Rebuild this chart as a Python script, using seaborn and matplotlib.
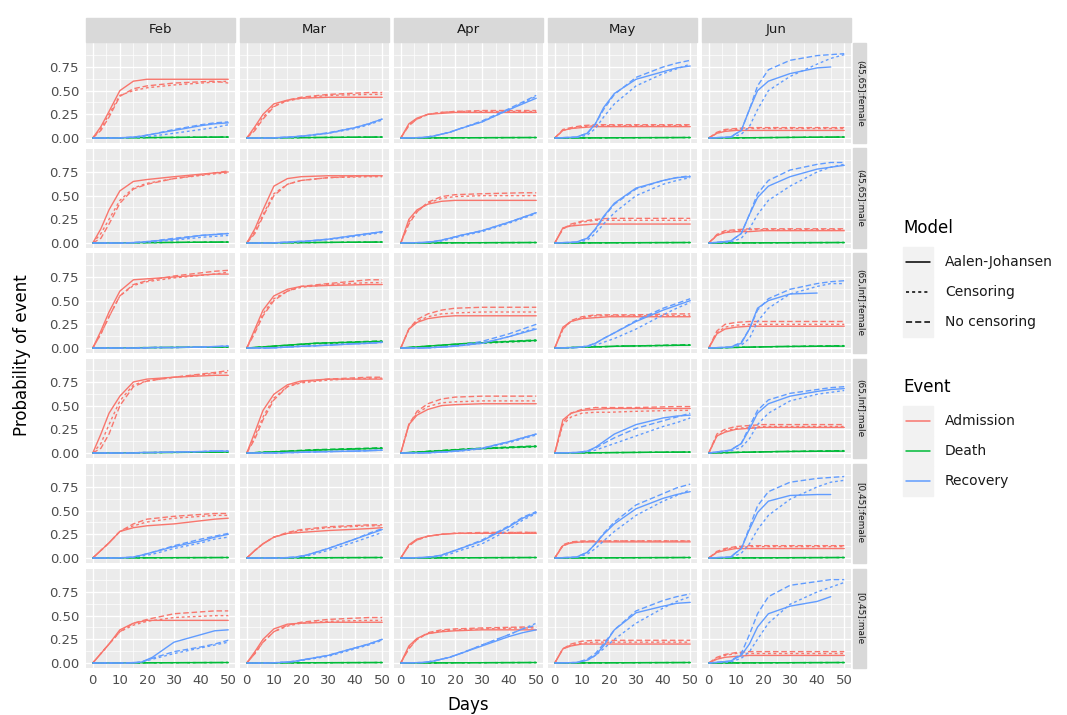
import numpy as np
import pandas as pd
import matplotlib
matplotlib.use("Agg")
import matplotlib.pyplot as plt
import seaborn as sns
from matplotlib.lines import Line2D
from matplotlib.patches import Rectangle
from matplotlib.ticker import MultipleLocator

nan = np.nan

# ──────────────────────────────────────────────
# Data
# ──────────────────────────────────────────────

MONTHS = ["Feb", "Mar", "Apr", "May", "Jun"]
GROUPS = ["(45,65]:female", "(45,65]:male", "(65,Inf]:female",
          "(65,Inf]:male", "[0,45]:female", "[0,45]:male"]
EVENTS = ["Admission", "Death", "Recovery"]
MODELS = ["Aalen-Johansen", "Censoring", "No censoring"]

ADM_DAYS = [0, 3, 6, 10, 15, 20, 30, 45, 50]
REC_DAYS = [0, 8, 12, 15, 18, 22, 30, 40, 45, 50]
DEATH_DAYS = [0, 25, 50]

# [group][month] -> values at ADM_DAYS
ADM_AJ = [
    [[0, 0.12, 0.28, 0.50, 0.60, 0.62, 0.62, 0.62, 0.62],
     [0, 0.12, 0.25, 0.36, 0.40, 0.42, 0.43, 0.43, 0.43],
     [0, 0.15, 0.21, 0.25, 0.26, 0.27, 0.27, 0.27, 0.27],
     [0, 0.08, 0.10, 0.11, 0.12, 0.12, 0.12, 0.12, 0.12],
     [0, 0.05, 0.07, 0.08, 0.08, 0.08, 0.08, 0.08, 0.08]],
    [[0, 0.15, 0.35, 0.55, 0.65, 0.67, 0.70, 0.74, 0.75],
     [0, 0.15, 0.35, 0.60, 0.68, 0.70, 0.71, 0.71, 0.71],
     [0, 0.25, 0.35, 0.41, 0.44, 0.45, 0.45, 0.45, 0.45],
     [0, 0.16, 0.18, 0.19, 0.20, 0.20, 0.20, 0.20, 0.20],
     [0, 0.08, 0.11, 0.12, 0.12, 0.13, 0.13, 0.13, 0.13]],
    [[0, 0.18, 0.38, 0.60, 0.72, 0.73, 0.75, 0.78, 0.78],
     [0, 0.20, 0.40, 0.55, 0.62, 0.65, 0.66, 0.67, 0.67],
     [0, 0.20, 0.27, 0.31, 0.33, 0.34, 0.34, 0.34, 0.34],
     [0, 0.22, 0.28, 0.31, 0.32, 0.33, 0.33, 0.33, 0.33],
     [0, 0.15, 0.20, 0.22, 0.23, 0.23, 0.23, 0.23, 0.23]],
    [[0, 0.20, 0.42, 0.60, 0.75, 0.78, 0.80, 0.82, 0.82],
     [0, 0.22, 0.45, 0.62, 0.72, 0.76, 0.78, 0.78, 0.78],
     [0, 0.30, 0.40, 0.46, 0.50, 0.51, 0.52, 0.52, 0.52],
     [0, 0.35, 0.42, 0.45, 0.46, 0.47, 0.47, 0.47, 0.47],
     [0, 0.18, 0.22, 0.25, 0.26, 0.27, 0.27, 0.27, 0.27]],
    [[0, 0.08, 0.16, 0.28, 0.32, 0.34, 0.36, 0.41, 0.42],
     [0, 0.08, 0.15, 0.22, 0.26, 0.27, 0.29, 0.31, 0.32],
     [0, 0.14, 0.20, 0.23, 0.25, 0.26, 0.26, 0.26, 0.26],
     [0, 0.13, 0.16, 0.17, 0.17, 0.17, 0.17, 0.17, 0.17],
     [0, 0.06, 0.08, 0.10, 0.10, 0.10, 0.10, 0.10, 0.10]],
    [[0, 0.10, 0.20, 0.35, 0.42, 0.45, 0.45, 0.45, 0.45],
     [0, 0.12, 0.25, 0.36, 0.41, 0.42, 0.43, 0.43, 0.43],
     [0, 0.18, 0.26, 0.31, 0.33, 0.34, 0.35, 0.35, 0.35],
     [0, 0.15, 0.18, 0.20, 0.20, 0.20, 0.20, 0.20, 0.20],
     [0, 0.04, 0.06, 0.07, 0.08, 0.08, 0.08, 0.08, 0.08]],
]

ADM_CENS = [
    [[0, 0.10, 0.25, 0.45, 0.50, 0.53, 0.56, 0.59, 0.60],
     [0, 0.10, 0.22, 0.34, 0.39, 0.42, 0.45, 0.46, 0.46],
     [0, 0.14, 0.20, 0.25, 0.27, 0.28, 0.28, 0.28, 0.28],
     [0, 0.08, 0.10, 0.12, 0.13, 0.13, 0.13, 0.13, 0.13],
     [0, 0.05, 0.08, 0.09, 0.10, 0.10, 0.10, 0.10, 0.10]],
    [[0, 0.10, 0.25, 0.45, 0.58, 0.63, 0.68, 0.73, 0.74],
     [0, 0.12, 0.30, 0.52, 0.62, 0.66, 0.69, 0.70, 0.70],
     [0, 0.22, 0.33, 0.42, 0.47, 0.49, 0.50, 0.50, 0.50],
     [0, 0.15, 0.19, 0.22, 0.24, 0.24, 0.24, 0.24, 0.24],
     [0, 0.08, 0.12, 0.13, 0.14, 0.14, 0.14, 0.14, 0.14]],
    [[0, 0.15, 0.33, 0.55, 0.66, 0.70, 0.74, 0.78, 0.80],
     [0, 0.18, 0.36, 0.52, 0.60, 0.64, 0.67, 0.69, 0.69],
     [0, 0.20, 0.28, 0.33, 0.36, 0.37, 0.38, 0.38, 0.38],
     [0, 0.20, 0.28, 0.32, 0.34, 0.34, 0.34, 0.34, 0.34],
     [0, 0.16, 0.22, 0.24, 0.25, 0.25, 0.25, 0.25, 0.25]],
    [[0, 0.10, 0.30, 0.55, 0.72, 0.76, 0.80, 0.84, 0.85],
     [0, 0.18, 0.38, 0.58, 0.70, 0.74, 0.77, 0.79, 0.79],
     [0, 0.30, 0.42, 0.49, 0.53, 0.54, 0.55, 0.55, 0.55],
     [0, 0.30, 0.38, 0.42, 0.43, 0.43, 0.44, 0.45, 0.45],
     [0, 0.18, 0.23, 0.26, 0.27, 0.28, 0.28, 0.28, 0.28]],
    [[0, 0.08, 0.16, 0.28, 0.34, 0.38, 0.42, 0.45, 0.45],
     [0, 0.08, 0.15, 0.22, 0.26, 0.29, 0.32, 0.34, 0.34],
     [0, 0.13, 0.19, 0.23, 0.25, 0.26, 0.26, 0.27, 0.27],
     [0, 0.13, 0.16, 0.17, 0.18, 0.18, 0.18, 0.18, 0.18],
     [0, 0.06, 0.09, 0.11, 0.12, 0.12, 0.12, 0.12, 0.12]],
    [[0, 0.10, 0.20, 0.33, 0.40, 0.44, 0.48, 0.50, 0.50],
     [0, 0.10, 0.22, 0.33, 0.39, 0.42, 0.44, 0.45, 0.45],
     [0, 0.16, 0.25, 0.31, 0.34, 0.35, 0.36, 0.37, 0.37],
     [0, 0.15, 0.19, 0.21, 0.22, 0.22, 0.22, 0.22, 0.22],
     [0, 0.05, 0.08, 0.10, 0.10, 0.10, 0.10, 0.10, 0.10]],
]

ADM_NOCENS = [
    [[0, 0.08, 0.22, 0.44, 0.52, 0.55, 0.58, 0.60, 0.58],
     [0, 0.08, 0.20, 0.33, 0.40, 0.43, 0.46, 0.48, 0.48],
     [0, 0.13, 0.20, 0.25, 0.27, 0.28, 0.29, 0.29, 0.29],
     [0, 0.09, 0.11, 0.13, 0.14, 0.14, 0.14, 0.14, 0.14],
     [0, 0.06, 0.09, 0.10, 0.11, 0.11, 0.11, 0.11, 0.11]],
    [[0, 0.05, 0.20, 0.42, 0.57, 0.62, 0.68, 0.74, 0.76],
     [0, 0.10, 0.28, 0.50, 0.62, 0.66, 0.69, 0.71, 0.71],
     [0, 0.20, 0.33, 0.43, 0.49, 0.51, 0.52, 0.53, 0.53],
     [0, 0.15, 0.20, 0.23, 0.25, 0.26, 0.26, 0.26, 0.26],
     [0, 0.09, 0.13, 0.14, 0.15, 0.15, 0.15, 0.15, 0.15]],
    [[0, 0.15, 0.33, 0.55, 0.67, 0.71, 0.76, 0.81, 0.82],
     [0, 0.16, 0.34, 0.50, 0.60, 0.65, 0.68, 0.72, 0.72],
     [0, 0.20, 0.30, 0.36, 0.40, 0.42, 0.43, 0.43, 0.43],
     [0, 0.20, 0.29, 0.33, 0.35, 0.35, 0.35, 0.36, 0.36],
     [0, 0.18, 0.25, 0.27, 0.28, 0.28, 0.28, 0.28, 0.28]],
    [[0, 0.05, 0.20, 0.50, 0.70, 0.76, 0.80, 0.85, 0.87],
     [0, 0.15, 0.35, 0.56, 0.70, 0.75, 0.78, 0.80, 0.80],
     [0, 0.30, 0.44, 0.52, 0.57, 0.59, 0.60, 0.60, 0.60],
     [0, 0.32, 0.42, 0.46, 0.48, 0.48, 0.48, 0.49, 0.49],
     [0, 0.20, 0.25, 0.28, 0.29, 0.30, 0.30, 0.30, 0.30]],
    [[0, 0.08, 0.16, 0.28, 0.36, 0.41, 0.44, 0.47, 0.47],
     [0, 0.08, 0.15, 0.22, 0.27, 0.30, 0.33, 0.35, 0.35],
     [0, 0.13, 0.19, 0.23, 0.25, 0.26, 0.27, 0.27, 0.27],
     [0, 0.14, 0.17, 0.18, 0.18, 0.18, 0.18, 0.18, 0.18],
     [0, 0.07, 0.10, 0.12, 0.13, 0.13, 0.13, 0.13, 0.13]],
    [[0, 0.10, 0.20, 0.33, 0.42, 0.46, 0.52, 0.55, 0.55],
     [0, 0.10, 0.22, 0.33, 0.40, 0.43, 0.46, 0.48, 0.48],
     [0, 0.15, 0.25, 0.32, 0.35, 0.36, 0.37, 0.38, 0.38],
     [0, 0.15, 0.20, 0.23, 0.24, 0.24, 0.24, 0.24, 0.24],
     [0, 0.06, 0.09, 0.11, 0.12, 0.12, 0.12, 0.12, 0.12]],
]

# [group][month] -> values at REC_DAYS
REC_AJ = [
    [[0, 0, 0.005, 0.01, 0.02, 0.04, 0.08, 0.13, 0.15, 0.16],
     [0, 0, 0.005, 0.01, 0.015, 0.025, 0.05, 0.11, 0.15, 0.20],
     [0, 0.005, 0.02, 0.04, 0.06, 0.10, 0.17, 0.30, 0.36, 0.42],
     [0, 0.01, 0.05, 0.15, 0.32, 0.47, 0.62, 0.70, 0.74, 0.76],
     [0, 0.01, 0.08, 0.30, 0.50, 0.60, 0.68, 0.74, 0.75, nan]],
    [[0, 0, 0, 0.005, 0.01, 0.02, 0.04, 0.08, 0.09, 0.10],
     [0, 0, 0.005, 0.01, 0.015, 0.02, 0.04, 0.08, 0.10, 0.12],
     [0, 0.005, 0.015, 0.03, 0.05, 0.08, 0.13, 0.22, 0.27, 0.32],
     [0, 0.01, 0.05, 0.15, 0.28, 0.42, 0.58, 0.66, 0.69, 0.70],
     [0, 0.02, 0.10, 0.30, 0.48, 0.60, 0.70, 0.78, 0.80, 0.82]],
    [[0, 0, 0, 0, 0, 0.005, 0.005, 0.01, 0.015, 0.02],
     [0, 0, 0.005, 0.01, 0.015, 0.02, 0.03, 0.045, 0.05, 0.06],
     [0, 0, 0.005, 0.01, 0.015, 0.025, 0.05, 0.12, 0.16, 0.20],
     [0, 0.005, 0.02, 0.05, 0.10, 0.16, 0.28, 0.40, 0.45, 0.50],
     [0, 0.01, 0.05, 0.20, 0.42, 0.50, 0.57, 0.58, nan, nan]],
    [[0, 0, 0, 0, 0.005, 0.005, 0.01, 0.015, 0.02, 0.02],
     [0, 0, 0, 0.005, 0.005, 0.01, 0.015, 0.02, 0.025, 0.03],
     [0, 0, 0.005, 0.01, 0.015, 0.025, 0.05, 0.12, 0.16, 0.20],
     [0, 0.005, 0.02, 0.06, 0.12, 0.20, 0.30, 0.37, 0.39, 0.40],
     [0, 0.03, 0.10, 0.25, 0.42, 0.52, 0.60, 0.65, 0.67, 0.68]],
    [[0, 0, 0.005, 0.01, 0.03, 0.06, 0.12, 0.18, 0.22, 0.25],
     [0, 0, 0, 0.005, 0.01, 0.03, 0.10, 0.20, 0.25, 0.30],
     [0, 0.005, 0.015, 0.03, 0.06, 0.10, 0.18, 0.33, 0.42, 0.48],
     [0, 0.01, 0.06, 0.15, 0.25, 0.36, 0.52, 0.63, 0.67, 0.70],
     [0, 0.01, 0.10, 0.30, 0.48, 0.60, 0.66, 0.67, 0.67, nan]],
    [[0, 0, 0, 0.005, 0.01, 0.06, 0.22, 0.30, 0.34, 0.35],
     [0, 0, 0.005, 0.01, 0.02, 0.04, 0.08, 0.16, 0.20, 0.25],
     [0, 0.005, 0.02, 0.04, 0.06, 0.10, 0.18, 0.28, 0.32, 0.35],
     [0, 0.005, 0.03, 0.08, 0.18, 0.35, 0.53, 0.60, 0.63, 0.64],
     [0, 0.02, 0.08, 0.20, 0.38, 0.52, 0.60, 0.65, 0.70, nan]],
]

REC_CENS = [
    [[0, 0, 0, 0.005, 0.01, 0.02, 0.05, 0.09, 0.11, 0.14],
     [0, 0, 0, 0.005, 0.01, 0.02, 0.05, 0.10, 0.14, 0.19],
     [0, 0.005, 0.02, 0.04, 0.06, 0.10, 0.17, 0.30, 0.37, 0.44],
     [0, 0.005, 0.03, 0.10, 0.22, 0.36, 0.55, 0.68, 0.73, 0.78],
     [0, 0.005, 0.04, 0.12, 0.30, 0.50, 0.65, 0.78, 0.84, 0.88]],
    [[0, 0, 0, 0, 0.005, 0.01, 0.03, 0.06, 0.07, 0.08],
     [0, 0, 0, 0.005, 0.01, 0.015, 0.035, 0.07, 0.09, 0.11],
     [0, 0.005, 0.01, 0.02, 0.04, 0.07, 0.12, 0.21, 0.26, 0.31],
     [0, 0.005, 0.03, 0.10, 0.20, 0.32, 0.50, 0.62, 0.66, 0.69],
     [0, 0.01, 0.05, 0.15, 0.30, 0.45, 0.60, 0.75, 0.80, 0.83]],
    [[0, 0, 0, 0, 0, 0.005, 0.005, 0.01, 0.015, 0.02],
     [0, 0, 0.005, 0.01, 0.015, 0.02, 0.03, 0.045, 0.05, 0.06],
     [0, 0, 0.005, 0.01, 0.015, 0.025, 0.05, 0.12, 0.17, 0.21],
     [0, 0.005, 0.015, 0.03, 0.06, 0.10, 0.20, 0.35, 0.42, 0.48],
     [0, 0.005, 0.03, 0.10, 0.28, 0.42, 0.57, 0.65, 0.68, 0.68]],
    [[0, 0, 0, 0, 0.005, 0.005, 0.01, 0.015, 0.02, 0.02],
     [0, 0, 0, 0.005, 0.005, 0.01, 0.015, 0.02, 0.025, 0.03],
     [0, 0, 0.005, 0.01, 0.015, 0.02, 0.045, 0.11, 0.15, 0.19],
     [0, 0.005, 0.015, 0.03, 0.06, 0.10, 0.18, 0.28, 0.32, 0.37],
     [0, 0.02, 0.06, 0.15, 0.30, 0.42, 0.55, 0.62, 0.64, 0.66]],
    [[0, 0, 0, 0.005, 0.02, 0.04, 0.10, 0.16, 0.20, 0.22],
     [0, 0, 0, 0, 0.005, 0.02, 0.08, 0.17, 0.22, 0.27],
     [0, 0.005, 0.01, 0.02, 0.04, 0.08, 0.15, 0.30, 0.40, 0.47],
     [0, 0.005, 0.04, 0.10, 0.18, 0.28, 0.45, 0.60, 0.66, 0.72],
     [0, 0.005, 0.05, 0.15, 0.30, 0.45, 0.62, 0.75, 0.80, 0.82]],
    [[0, 0, 0, 0, 0.01, 0.04, 0.10, 0.16, 0.19, 0.22],
     [0, 0, 0.005, 0.01, 0.015, 0.035, 0.07, 0.15, 0.19, 0.24],
     [0, 0.005, 0.02, 0.04, 0.06, 0.10, 0.19, 0.30, 0.36, 0.42],
     [0, 0.005, 0.03, 0.08, 0.15, 0.25, 0.42, 0.58, 0.65, 0.70],
     [0, 0.01, 0.05, 0.12, 0.25, 0.42, 0.62, 0.75, 0.80, 0.85]],
]

REC_NOCENS = [
    [[0, 0, 0.005, 0.01, 0.02, 0.04, 0.09, 0.14, 0.16, 0.17],
     [0, 0, 0.005, 0.01, 0.015, 0.025, 0.055, 0.11, 0.15, 0.20],
     [0, 0.005, 0.02, 0.04, 0.06, 0.10, 0.18, 0.31, 0.38, 0.45],
     [0, 0.01, 0.05, 0.15, 0.30, 0.46, 0.64, 0.75, 0.79, 0.82],
     [0, 0.01, 0.08, 0.30, 0.55, 0.72, 0.82, 0.87, 0.88, 0.89]],
    [[0, 0, 0, 0.005, 0.01, 0.02, 0.05, 0.08, 0.09, 0.10],
     [0, 0, 0.005, 0.01, 0.015, 0.02, 0.04, 0.08, 0.10, 0.12],
     [0, 0.005, 0.015, 0.03, 0.05, 0.08, 0.13, 0.22, 0.27, 0.32],
     [0, 0.01, 0.05, 0.14, 0.27, 0.41, 0.57, 0.66, 0.69, 0.71],
     [0, 0.02, 0.10, 0.30, 0.52, 0.66, 0.77, 0.83, 0.85, 0.85]],
    [[0, 0, 0, 0, 0, 0.005, 0.005, 0.01, 0.015, 0.02],
     [0, 0, 0.005, 0.01, 0.015, 0.02, 0.03, 0.045, 0.05, 0.06],
     [0, 0, 0.005, 0.01, 0.02, 0.03, 0.07, 0.15, 0.20, 0.25],
     [0, 0.005, 0.02, 0.05, 0.10, 0.16, 0.29, 0.42, 0.47, 0.52],
     [0, 0.01, 0.06, 0.20, 0.40, 0.52, 0.62, 0.68, 0.70, 0.71]],
    [[0, 0, 0, 0, 0.005, 0.005, 0.01, 0.015, 0.02, 0.02],
     [0, 0, 0, 0.005, 0.005, 0.01, 0.015, 0.02, 0.025, 0.03],
     [0, 0, 0.005, 0.01, 0.015, 0.025, 0.05, 0.12, 0.16, 0.20],
     [0, 0.005, 0.02, 0.05, 0.10, 0.16, 0.26, 0.34, 0.38, 0.42],
     [0, 0.03, 0.10, 0.28, 0.45, 0.56, 0.63, 0.67, 0.69, 0.70]],
    [[0, 0, 0.005, 0.01, 0.03, 0.06, 0.13, 0.20, 0.23, 0.26],
     [0, 0, 0, 0.005, 0.01, 0.03, 0.10, 0.20, 0.26, 0.31],
     [0, 0.005, 0.015, 0.03, 0.06, 0.10, 0.19, 0.34, 0.43, 0.49],
     [0, 0.01, 0.06, 0.15, 0.26, 0.38, 0.56, 0.68, 0.74, 0.78],
     [0, 0.01, 0.10, 0.32, 0.55, 0.70, 0.80, 0.84, 0.85, 0.86]],
    [[0, 0, 0, 0, 0.01, 0.05, 0.12, 0.17, 0.20, 0.24],
     [0, 0, 0.005, 0.01, 0.02, 0.04, 0.08, 0.16, 0.20, 0.25],
     [0, 0.005, 0.02, 0.04, 0.06, 0.10, 0.19, 0.30, 0.36, 0.40],
     [0, 0.005, 0.04, 0.10, 0.20, 0.35, 0.55, 0.66, 0.70, 0.73],
     [0, 0.02, 0.10, 0.30, 0.52, 0.70, 0.82, 0.86, 0.88, 0.88]],
]

# [group][month] -> values at DEATH_DAYS (all three models nearly identical)
DEATH_AJ = [
    [[0, 0.005, 0.01], [0, 0.005, 0.01], [0, 0.003, 0.005], [0, 0.003, 0.005], [0, 0.005, 0.01]],
    [[0, 0.005, 0.01], [0, 0.005, 0.01], [0, 0.003, 0.005], [0, 0.003, 0.005], [0, 0.003, 0.005]],
    [[0, 0.005, 0.01], [0, 0.05, 0.07], [0, 0.05, 0.08], [0, 0.02, 0.03], [0, 0.015, 0.02]],
    [[0, 0.005, 0.01], [0, 0.03, 0.05], [0, 0.04, 0.07], [0, 0.005, 0.01], [0, 0.015, 0.02]],
    [[0, 0.003, 0.005], [0, 0.003, 0.005], [0, 0.003, 0.005], [0, 0.003, 0.005], [0, 0.003, 0.005]],
    [[0, 0.003, 0.005], [0, 0.003, 0.005], [0, 0.003, 0.005], [0, 0.003, 0.005], [0, 0.003, 0.005]],
]
DEATH_CENS = [
    [[0, 0.005, 0.01], [0, 0.005, 0.01], [0, 0.003, 0.005], [0, 0.003, 0.005], [0, 0.005, 0.01]],
    [[0, 0.005, 0.01], [0, 0.005, 0.01], [0, 0.003, 0.005], [0, 0.003, 0.005], [0, 0.003, 0.005]],
    [[0, 0.005, 0.01], [0, 0.045, 0.065], [0, 0.045, 0.075], [0, 0.02, 0.03], [0, 0.015, 0.02]],
    [[0, 0.005, 0.01], [0, 0.03, 0.05], [0, 0.04, 0.065], [0, 0.005, 0.01], [0, 0.015, 0.02]],
    [[0, 0.003, 0.005], [0, 0.003, 0.005], [0, 0.003, 0.005], [0, 0.003, 0.005], [0, 0.003, 0.005]],
    [[0, 0.003, 0.005], [0, 0.003, 0.005], [0, 0.003, 0.005], [0, 0.003, 0.005], [0, 0.003, 0.005]],
]
DEATH_NOCENS = [
    [[0, 0.005, 0.01], [0, 0.005, 0.01], [0, 0.003, 0.005], [0, 0.003, 0.005], [0, 0.005, 0.01]],
    [[0, 0.005, 0.01], [0, 0.005, 0.01], [0, 0.003, 0.005], [0, 0.003, 0.005], [0, 0.003, 0.005]],
    [[0, 0.005, 0.01], [0, 0.05, 0.075], [0, 0.05, 0.085], [0, 0.02, 0.035], [0, 0.015, 0.025]],
    [[0, 0.005, 0.01], [0, 0.035, 0.055], [0, 0.045, 0.075], [0, 0.005, 0.01], [0, 0.015, 0.025]],
    [[0, 0.003, 0.005], [0, 0.003, 0.005], [0, 0.003, 0.005], [0, 0.003, 0.005], [0, 0.003, 0.005]],
    [[0, 0.003, 0.005], [0, 0.003, 0.005], [0, 0.003, 0.005], [0, 0.003, 0.005], [0, 0.003, 0.005]],
]

# ──────────────────────────────────────────────
# Long-format table
# ──────────────────────────────────────────────

SERIES = [
    ("Admission", ADM_DAYS, {"Aalen-Johansen": ADM_AJ, "Censoring": ADM_CENS, "No censoring": ADM_NOCENS}),
    ("Death", DEATH_DAYS, {"Aalen-Johansen": DEATH_AJ, "Censoring": DEATH_CENS, "No censoring": DEATH_NOCENS}),
    ("Recovery", REC_DAYS, {"Aalen-Johansen": REC_AJ, "Censoring": REC_CENS, "No censoring": REC_NOCENS}),
]

rows = []
for gi, group in enumerate(GROUPS):
    for mi, month in enumerate(MONTHS):
        for event, days, by_model in SERIES:
            for model, arr in by_model.items():
                for d, v in zip(days, arr[gi][mi]):
                    rows.append((group, month, event, model, d, v))
df = pd.DataFrame(rows, columns=["Group", "Month", "Event", "Model", "Days", "Probability"])

# ──────────────────────────────────────────────
# Styling (ggplot2 theme_grey look)
# ──────────────────────────────────────────────

PALETTE = {"Admission": "#F8766D", "Death": "#00BA38", "Recovery": "#619CFF"}
DASHES = {"Aalen-Johansen": "", "Censoring": (2, 2), "No censoring": (4, 2)}

W, H = 1067, 715
fig = plt.figure(figsize=(W / 100, H / 100), dpi=100)
sns.set_style("white")
plt.rcParams["font.family"] = ["DejaVu Sans"]


def px_rect(x, y, w, h):
    """Pixel box (top-left origin) -> figure fraction [l, b, w, h]."""
    return [x / W, 1 - (y + h) / H, w / W, h / H]


def fx(x):
    return x / W


def fy(y):
    return 1 - y / H


COL_LEFT = 86
COL_PITCH = 154
PANEL_W = 149
ROW_TOP = 43.5
ROW_PITCH = 105
PANEL_H = 99

for gi, group in enumerate(GROUPS):
    for mi, month in enumerate(MONTHS):
        x0 = COL_LEFT + mi * COL_PITCH
        y0 = ROW_TOP + gi * ROW_PITCH
        ax = fig.add_axes(px_rect(x0, y0, PANEL_W, PANEL_H))
        sub = df[(df["Group"] == group) & (df["Month"] == month)]
        sns.lineplot(data=sub, x="Days", y="Probability", hue="Event", style="Model",
                     hue_order=EVENTS, style_order=MODELS, palette=PALETTE,
                     dashes=DASHES, estimator=None, linewidth=1.0, legend=False, ax=ax)
        ax.set_facecolor("#EBEBEB")
        for s in ax.spines.values():
            s.set_visible(False)
        ax.set_xlim(-2.5, 52.5)
        ax.set_ylim(-0.0475, 0.9975)
        ax.xaxis.set_major_locator(MultipleLocator(10))
        ax.xaxis.set_minor_locator(MultipleLocator(5))
        ax.set_yticks([0, 0.25, 0.5, 0.75])
        ax.set_yticks([0.125, 0.375, 0.625, 0.875], minor=True)
        ax.grid(which="major", color="white", linewidth=1.0)
        ax.grid(which="minor", color="white", linewidth=0.5)
        ax.set_axisbelow(True)
        ax.set_xlabel("")
        ax.set_ylabel("")
        ax.tick_params(which="minor", length=0)
        ax.tick_params(which="major", length=3.5, width=0.8, color="#333333",
                       labelcolor="#4D4D4D", labelsize=9.5, pad=1.5)
        if mi == 0:
            ax.set_yticklabels(["0.00", "0.25", "0.50", "0.75"])
        else:
            ax.tick_params(axis="y", left=False, labelleft=False)
        if gi != len(GROUPS) - 1:
            ax.tick_params(axis="x", bottom=False, labelbottom=False)

        # top strips
        if gi == 0:
            fig.patches.append(Rectangle((fx(x0), fy(41.5)), PANEL_W / W, 24 / H,
                                         transform=fig.transFigure, color="#D9D9D9", zorder=0))
            fig.text(fx(x0 + PANEL_W / 2), fy(29.5), month, ha="center", va="center",
                     fontsize=9.5, color="#1A1A1A")
    # right strips
    y0 = ROW_TOP + gi * ROW_PITCH
    sx = COL_LEFT + 4 * COL_PITCH + PANEL_W + 2
    fig.patches.append(Rectangle((fx(sx), fy(y0 + PANEL_H)), 13 / W, PANEL_H / H,
                                 transform=fig.transFigure, color="#D9D9D9", zorder=0))
    fig.text(fx(sx + 6.5), fy(y0 + PANEL_H / 2), group, rotation=270, ha="center",
             va="center", fontsize=6.5, color="#1A1A1A")

# axis titles
fig.text(fx(COL_LEFT + (4 * COL_PITCH + PANEL_W) / 2), fy(705), "Days",
         ha="center", va="center", fontsize=12, color="black")
fig.text(fx(22), fy(ROW_TOP + (5 * ROW_PITCH + PANEL_H) / 2), "Probability of event",
         rotation=90, ha="center", va="center", fontsize=12, color="black")

# ──────────────────────────────────────────────
# Legends
# ──────────────────────────────────────────────

def draw_legend(title, title_y, first_y, labels, colors, styles):
    fig.text(fx(903), fy(title_y), title, ha="left", va="center", fontsize=12, color="black")
    for k, (lab, col, sty) in enumerate(zip(labels, colors, styles)):
        cy = first_y + k * 30
        fig.patches.append(Rectangle((fx(903), fy(cy + 15)), 30 / W, 30 / H,
                                     transform=fig.transFigure, color="#F2F2F2", zorder=0))
        ln = Line2D([fx(906), fx(930)], [fy(cy), fy(cy)], transform=fig.transFigure,
                    color=col, linewidth=1.1)
        if sty:
            ln.set_dashes(sty)
        fig.add_artist(ln)
        fig.text(fx(945), fy(cy), lab, ha="left", va="center", fontsize=10, color="#1A1A1A")


draw_legend("Model", 228, 262, MODELS, ["black"] * 3, [None, (2, 2), (4, 2)])
draw_legend("Event", 387, 421, EVENTS, [PALETTE[e] for e in EVENTS], [None] * 3)

fig.savefig("out.png", dpi=100, facecolor="white")
